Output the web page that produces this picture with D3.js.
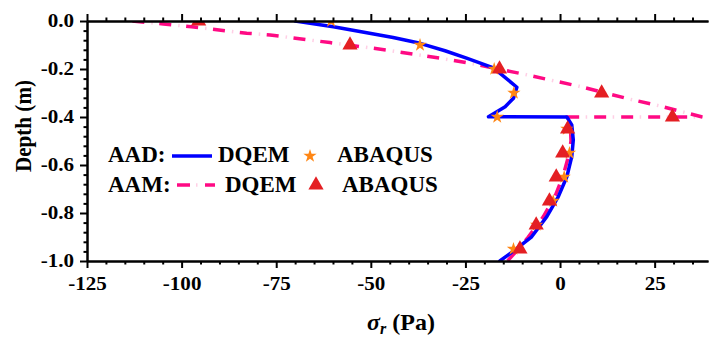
<!DOCTYPE html>
<html>
<head>
<meta charset="utf-8">
<script src="https://cdn.jsdelivr.net/npm/d3@7/dist/d3.min.js"></script>
<style>
  html, body { margin: 0; padding: 0; background: #fff; }
  svg { display: block; }
</style>
</head>
<body>
<svg id="chart" width="710" height="338"></svg>
<script>
// Radial stress profiles, AAD and AAM cases (depth in m, stress in Pa)
const aadDqemX = [-70, -59.9, -52.9, -44.1, -37, -30.4, -24.7, -17.6, -11.4, -12.3, -14.5, -18.9, 1.8, 3.1, 3.5, 3.1, 1.8, -0.45, -3.5, -7.5, -11.9, -15.9];
const aadDqemY = [0, -0.024, -0.044, -0.069, -0.093, -0.124, -0.155, -0.195, -0.276, -0.322, -0.357, -0.399, -0.4, -0.433, -0.496, -0.565, -0.649, -0.732, -0.815, -0.899, -0.954, -1.0];

const aamDqemX = [-113, -104.8, -97.4, -82.8, -76.6, -67.8, -60.8, -45.8, -31.7, -23.8, -9.7, -2.6, 4.8, 18.5, 26.4, 37.6, 2.0, 2.8, 2.9, 2.3, 0.9, -1.3, -4.4, -8.4, -11.0, -13.9];
const aamDqemY = [0, -0.0125, -0.024, -0.051, -0.058, -0.076, -0.09, -0.121, -0.155, -0.176, -0.221, -0.246, -0.271, -0.326, -0.354, -0.4, -0.4, -0.46, -0.5, -0.56, -0.64, -0.73, -0.815, -0.9, -0.95, -1.0];

const aadAbaqusX = [-60.5, -37, -17.4, -12.2, -16.6, 1.8, 2.5, 1.1, -1.8, -6.2, -12.3];
const aadAbaqusY = [0, -0.1, -0.2, -0.3, -0.4, -0.45, -0.55, -0.65, -0.75, -0.85, -0.95];

const aamAbaqusX = [-95.5, -55.5, -16, 11, 29.7, 2.0, 0.7, -1.0, -2.8, -6.3, -10.6];
const aamAbaqusY = [0, -0.1, -0.2, -0.3, -0.4, -0.45, -0.55, -0.65, -0.75, -0.85, -0.95];

const xMajorTicks = [-125, -100, -75, -50, -25, 0, 25];
const yMajorTicks = [0, -0.2, -0.4, -0.6, -0.8, -1.0];

const blue = "#0000ff", pink = "#ff0a84", pinkDot = "#ffcfe5", orange = "#ff8614", red = "#e41f23";
const FONT = '"Liberation Serif", "Times New Roman", Times, serif';
const TICK_STRETCH = 1.17;

const svg = d3.select("#chart");
const plotLeft = 87, plotRight = 708, plotTop = 21, plotBottom = 261;

const x = d3.scaleLinear().domain([-125, 39.1]).range([plotLeft, plotRight]);
const y = d3.scaleLinear().domain([-1, 0]).range([plotBottom, plotTop]);

const xMinor = d3.range(-125, 39.1, 5).filter(v => v % 25 !== 0);
const yMinor = d3.range(0, -1.0001, -0.04).map(v => +v.toFixed(2)).filter(v => Math.abs(Math.round(v / 0.2) * 0.2 - v) > 1e-6);

svg.append("defs").append("clipPath").attr("id", "plot")
  .append("rect").attr("x", plotLeft).attr("y", plotTop).attr("width", plotRight - plotLeft + 2).attr("height", plotBottom - plotTop + 1);

const plot = svg.append("g").attr("clip-path", "url(#plot)");

const line = d3.line().x(d => x(d[0])).y(d => y(d[1]));
const aad = aadDqemX.map((v, i) => [v, aadDqemY[i]]);
const aam = aamDqemX.map((v, i) => [v, aamDqemY[i]]);

// AAM DQEM: dashed pink with faint dots in the gaps
plot.append("path").datum(aam).attr("d", line)
  .attr("fill", "none").attr("stroke", pinkDot).attr("stroke-width", 3.5)
  .attr("stroke-dasharray", "0,19,1.5,6.5");
plot.append("path").datum(aam).attr("d", line)
  .attr("fill", "none").attr("stroke", pink).attr("stroke-width", 3.5)
  .attr("stroke-dasharray", "12,15");

// AAD DQEM: solid blue
plot.append("path").datum(aad).attr("d", line)
  .attr("fill", "none").attr("stroke", blue).attr("stroke-width", 3.5)
  .attr("stroke-linejoin", "round").attr("stroke-linecap", "round");

const star = d3.symbol().type(d3.symbolStar).size(55);
const tri = d3.symbol().type(d3.symbolTriangle).size(100);

plot.selectAll(".star").data(aadAbaqusX.map((v, i) => [v, aadAbaqusY[i]])).join("path")
  .attr("class", "star").attr("d", star)
  .attr("transform", d => `translate(${x(d[0])},${y(d[1])})`)
  .attr("fill", orange);

plot.selectAll(".tri").data(aamAbaqusX.map((v, i) => [v, aamAbaqusY[i]])).join("path")
  .attr("class", "tri").attr("d", tri)
  .attr("transform", d => `translate(${x(d[0])},${y(d[1])})`)
  .attr("fill", red);

// Axes
const hyphen = f => v => f(v).replace("\u2212", "-");
function styleAxis(g) {
  g.select(".domain").attr("stroke", "#000").attr("stroke-width", 2);
  g.selectAll(".tick line").attr("stroke", "#000").attr("stroke-width", 2);
  g.selectAll("text").style("font-family", FONT).style("font-weight", "bold")
    .style("font-size", "18px").attr("fill", "#000");
}

svg.append("g").attr("transform", `translate(0,${plotBottom})`)
  .call(d3.axisBottom(x).tickValues(xMinor).tickSize(3.5).tickSizeOuter(0).tickFormat(""))
  .call(styleAxis);
svg.append("g").attr("transform", `translate(0,${plotBottom})`)
  .call(d3.axisBottom(x).tickValues(xMajorTicks).tickSize(7).tickSizeOuter(0).tickPadding(9.7).tickFormat(hyphen(d3.format("d"))))
  .call(styleAxis)
  .selectAll("text").attr("transform", `scale(${TICK_STRETCH},1)`);

svg.append("g").attr("transform", `translate(0,${plotTop})`)
  .call(d3.axisTop(x).tickValues(xMinor).tickSize(3.5).tickSizeOuter(0).tickFormat(""))
  .call(styleAxis);
svg.append("g").attr("transform", `translate(0,${plotTop})`)
  .call(d3.axisTop(x).tickValues(xMajorTicks).tickSize(7).tickSizeOuter(0).tickFormat(""))
  .call(styleAxis);

svg.append("g").attr("transform", `translate(${plotLeft},0)`)
  .call(d3.axisLeft(y).tickValues(yMinor).tickSize(3.5).tickSizeOuter(0).tickFormat(""))
  .call(styleAxis);
svg.append("g").attr("transform", `translate(${plotLeft},0)`)
  .call(d3.axisLeft(y).tickValues(yMajorTicks).tickSize(7).tickSizeOuter(0).tickPadding(6).tickFormat(hyphen(d3.format(".1f"))))
  .call(styleAxis)
  .selectAll("text").attr("x", -13 / TICK_STRETCH).attr("transform", `scale(${TICK_STRETCH},1)`);

// Text helper with explicit font
function label(parent, size) {
  return parent.append("text").style("font-family", FONT).style("font-weight", "bold")
    .style("font-size", size + "px").attr("fill", "#000");
}

// Axis titles
label(svg, 24)
  .attr("transform", `translate(31,126) rotate(-90) scale(0.88,1)`)
  .attr("text-anchor", "middle")
  .text("Depth (m)");

const xt = label(svg, 24).attr("x", 401).attr("y", 330).attr("text-anchor", "middle");
xt.append("tspan").style("font-style", "italic").text("σ");
xt.append("tspan").style("font-style", "italic").style("font-size", "16px").attr("dy", 4).text("r");
xt.append("tspan").attr("dy", -4).text(" (Pa)");

// Legend
const lg = svg.append("g");
label(lg, 23).attr("x", 108).attr("y", 162).text("AAD:");
lg.append("line").attr("x1", 172).attr("x2", 212).attr("y1", 156).attr("y2", 156)
  .attr("stroke", blue).attr("stroke-width", 3.5);
label(lg, 23).attr("x", 218).attr("y", 162).text("DQEM");
lg.append("path").attr("d", star).attr("transform", "translate(310,156)").attr("fill", orange);
label(lg, 23).attr("x", 337).attr("y", 162).text("ABAQUS");

label(lg, 23).attr("x", 108).attr("y", 192).text("AAM:");
lg.append("line").attr("x1", 177).attr("x2", 215).attr("y1", 185).attr("y2", 185)
  .attr("stroke", pinkDot).attr("stroke-width", 3.5).attr("stroke-dasharray", "0,19,1.5,20");
lg.append("line").attr("x1", 177).attr("x2", 215).attr("y1", 185).attr("y2", 185)
  .attr("stroke", pink).attr("stroke-width", 3.5).attr("stroke-dasharray", "13,15");
label(lg, 23).attr("x", 225).attr("y", 192).text("DQEM");
lg.append("path").attr("d", tri).attr("transform", "translate(316,185)").attr("fill", red);
label(lg, 23).attr("x", 342).attr("y", 192).text("ABAQUS");
</script>
</body>
</html>
